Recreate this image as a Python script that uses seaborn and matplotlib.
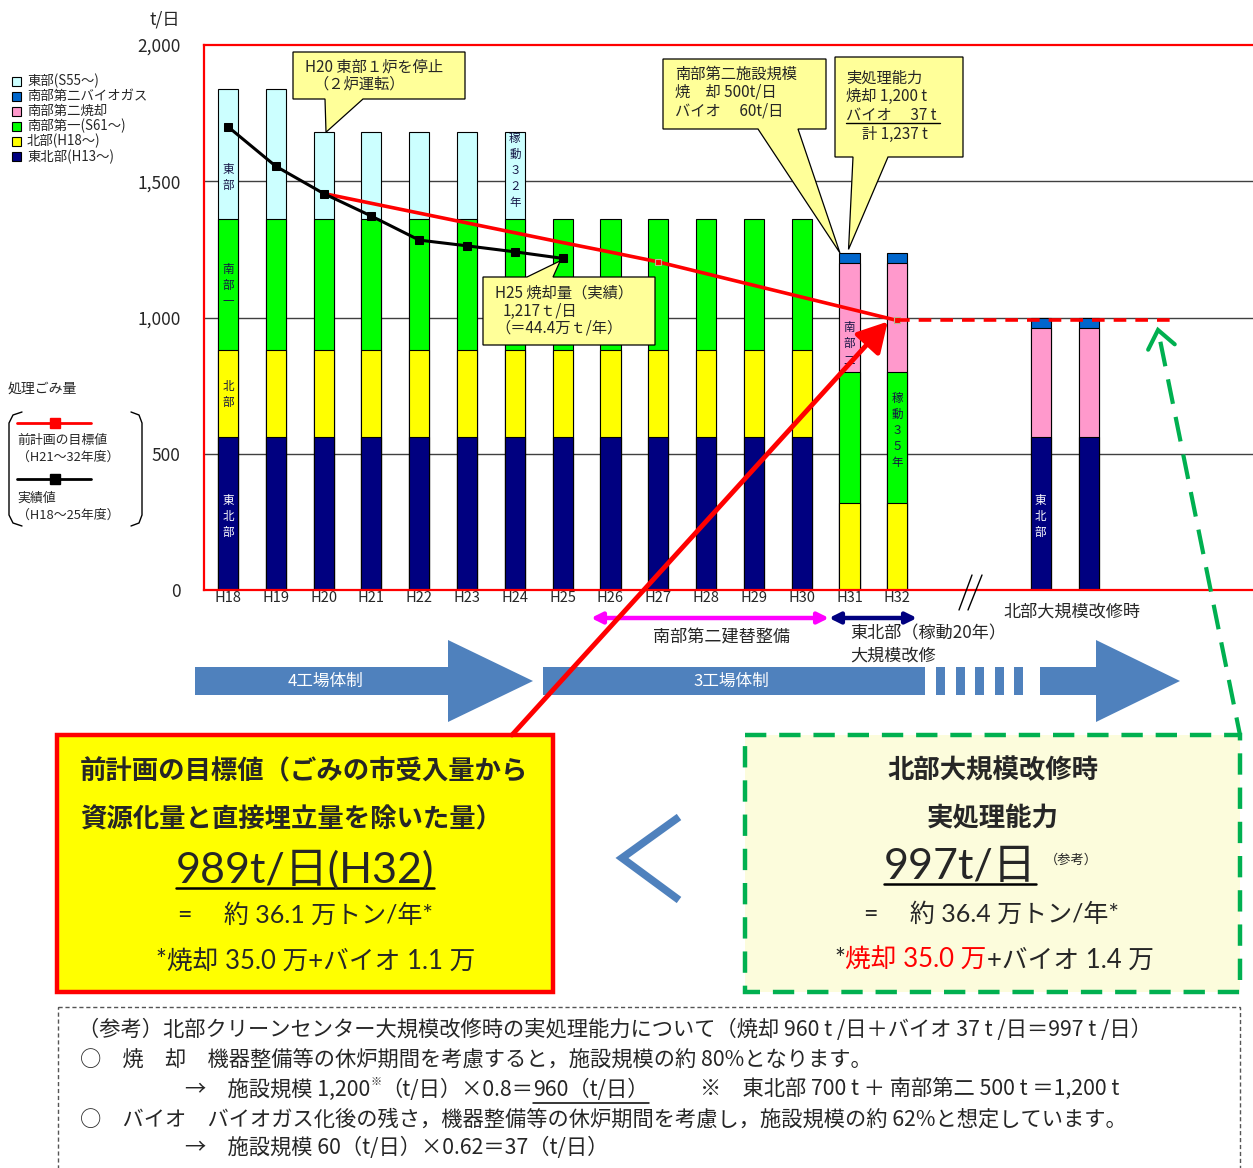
import numpy as np
import pandas as pd
import matplotlib
matplotlib.use("Agg")
import matplotlib.pyplot as plt
import seaborn as sns
from matplotlib.patches import Polygon, Rectangle

# ---------------- data ----------------
years = ["H18", "H19", "H20", "H21", "H22", "H23", "H24", "H25",
         "H26", "H27", "H28", "H29", "H30", "H31", "H32"]
gap_slots = ["gap1", "gap2"]
future_slots = ["北部改修時A", "北部改修時B"]

tohokubu   = [560] * 13 + [0, 0] + [560, 560]
hokubu     = [320] * 15 + [0, 0]
nanbu1     = [480] * 15 + [0, 0]
nanbu2_inc = [0] * 13 + [400, 400] + [400, 400]
nanbu2_bio = [0] * 13 + [37, 37] + [37, 37]
tobu       = [480, 480, 320, 320, 320, 320, 320] + [0] * 10

actual_years = years[:8]
actual_vals = [1700, 1555, 1455, 1372, 1284, 1263, 1241, 1217]
target_years = years[2:]
target_vals = [1455, 1419, 1383, 1347, 1311, 1275, 1240, 1204,
               1161, 1118, 1075, 1032, 989]

ytick_vals = [0, 500, 1000, 1500, 2000]
ytick_labels = ["0", "500", "1,000", "1,500", "2,000"]

layers = [
    ("東北部(H13～)", tohokubu, "#000080"),
    ("北部(H18～)", hokubu, "#FFFF00"),
    ("南部第一(S61～)", nanbu1, "#00FF00"),
    ("南部第二焼却", nanbu2_inc, "#FF99CC"),
    ("南部第二バイオガス", nanbu2_bio, "#0066CC"),
    ("東部(S55～)", tobu, "#CCFFFF"),
]

# ---------------- figure ----------------
sns.set_theme(style="white")
plt.rcParams["font.family"] = ["Noto Sans CJK JP", "DejaVu Sans"]
THIN = ["Lato", "Noto Sans CJK JP", "DejaVu Sans"]

W, H = 1253, 1168
fig = plt.figure(figsize=(W / 100, H / 100), dpi=100)
fig.patch.set_facecolor("white")
ax = fig.add_axes([204 / W, 1 - 590 / H, (W - 204) / W, 545 / H])
ax.set_facecolor("white")

all_slots = years + future_slots
order = years + gap_slots + future_slots
vals = np.array([l[1] for l in layers], float)
cum = vals.cumsum(axis=0)
for i in range(len(layers) - 1, -1, -1):
    m = vals[i] > 0
    d = pd.DataFrame({"slot": np.array(all_slots)[m], "top": cum[i][m]})
    sns.barplot(data=d, x="slot", y="top", order=order, color=layers[i][2],
                saturation=1, edgecolor="black", linewidth=0.8, width=0.42,
                errorbar=None, ax=ax, zorder=2)

for v in ytick_vals[1:-1]:
    ax.axhline(v, color="#404040", lw=1, zorder=1)

xa = [order.index(y) for y in actual_years]
xt = [order.index(y) for y in target_years]
sns.lineplot(x=xt, y=target_vals, ax=ax, color="red", lw=2.6, marker="s",
             markersize=4.5, markerfacecolor="red", markeredgecolor="#B8B890",
             markeredgewidth=0.8, markevery=[7, 12], zorder=4, legend=False)
ax.plot([xt[-1], 19.75], [target_vals[-1], target_vals[-1]], color="red",
        lw=2.6, dashes=(3.5, 2.5), zorder=4)
sns.lineplot(x=xa, y=actual_vals, ax=ax, color="black", lw=2.2, marker="s",
             markersize=5.5, markerfacecolor="black", markeredgecolor="black",
             zorder=5, legend=False)

ax.set_ylim(0, 2000)
ax.set_xlim(-0.502, 21.44)
ax.set_yticks(ytick_vals)
ax.set_yticklabels(ytick_labels, fontsize=12.5)
ax.tick_params(axis="y", length=0, pad=17)
ax.set_xticks(range(len(years)))
ax.set_xticklabels(years, fontsize=10.5)
ax.tick_params(axis="x", length=0, pad=1)
ax.set_xlabel("")
ax.set_ylabel("")
for s in ["left", "top", "bottom"]:
    ax.spines[s].set_visible(True)
    ax.spines[s].set_color("red")
    ax.spines[s].set_linewidth(1.6)
ax.spines["right"].set_visible(False)

DARK = "#151545"
def vtext(slot, val, s, color=DARK):
    ax.text(order.index(slot), val, "\n".join(s), ha="center", va="center",
            fontsize=8.3, color=color, linespacing=1.3, zorder=6)

vtext("H18", 1512, "東部")
vtext("H18", 1119, "南部一")
vtext("H18", 716, "北部")
vtext("H18", 268, "東北部", "white")
vtext("H24", 1541, "稼動３２年")
vtext("H31", 906, "南部二")
vtext("H32", 587, "稼動３５年")
vtext(future_slots[0], 268, "東北部", "white")

# ---------------- overlay ----------------
ov = fig.add_axes([0, 0, 1, 1], zorder=10)
ov.set_xlim(0, W)
ov.set_ylim(H, 0)
ov.axis("off")
R = fig.canvas.get_renderer()

def to_px(x, y):
    return ov.transData.inverted().transform(ax.transData.transform((x, y)))

def T(x, y, s, fs, **kw):
    kw.setdefault("va", "center")
    kw.setdefault("ha", "left")
    return ov.text(x, y, s, fontsize=fs, **kw)

def runs(x, y, parts, ha="left", fs=12, **common):
    objs, ws = [], []
    for p in parts:
        kw = dict(common)
        kw.update(p.get("kw", {}))
        t = ov.text(0, y + p.get("dy", 0), p["s"], fontsize=p.get("fs", fs),
                    ha="left", va=kw.pop("va", "center"), **kw)
        objs.append(t)
        ws.append(t.get_window_extent(R).width + p.get("gap", 0))
    total = sum(ws)
    cur = x - total / 2 if ha == "center" else x
    for t, w in zip(objs, ws):
        t.set_x(cur)
        cur += w
    return objs

def underline(t, y, lw=1.3):
    bb = t.get_window_extent(R)
    ov.plot([bb.x0, bb.x1], [y, y], color="black", lw=lw)

# y-label unit
T(165, 20, "t/日", 12.5, ha="center")

# legend (stack colours)
for k, (lab, _, col) in enumerate(layers[::-1]):
    y = 81 + k * 15.1
    ov.add_patch(Rectangle((12, y - 4.5), 9, 9, fc=col, ec="black", lw=0.8))
    T(27, y, lab, 9.6)

# legend (lines)
T(8, 389, "処理ごみ量", 10)
ov.plot([22, 13, 9, 9, 13, 22], [412, 415, 423, 515, 523, 526], color="black", lw=1)
ov.plot([131, 139, 142, 142, 139, 131], [412, 415, 423, 515, 523, 526], color="black", lw=1)
ov.plot([17, 91], [423, 423], color="red", lw=2)
ov.plot([55], [423], marker="s", color="red", ms=7)
T(17, 440, "前計画の目標値", 9.3)
T(17, 457, "（H21～32年度）", 9.3)
ov.plot([17, 91], [479, 479], color="black", lw=2)
ov.plot([55], [479], marker="s", color="black", ms=7)
T(17, 498, "実績値", 9.3)
T(17, 515, "（H18～25年度）", 9.3)

# callouts
CALL = "#FFFF99"
def callout(x0, y0, x1, y1, side, xa_, xb_, tip):
    tip = tuple(tip)
    if side == "bottom":
        pts = [(x0, y0), (x1, y0), (x1, y1), (xb_, y1), tip, (xa_, y1), (x0, y1)]
    else:
        pts = [(x0, y0), (xa_, y0), tip, (xb_, y0), (x1, y0), (x1, y1), (x0, y1)]
    ov.add_patch(Polygon(pts, closed=True, fc=CALL, ec="black", lw=0.9, zorder=3))

CF = 11
callout(293, 52, 465, 99, "bottom", 325, 363, to_px(2.05, 1680))
T(305, 67, "H20 東部１炉を停止", CF, zorder=4)
T(313, 84, "（２炉運転）", CF, zorder=4)

callout(663, 59, 826, 129, "bottom", 758, 798, to_px(12.8, 1237))
T(675, 74, "南部第二施設規模", CF, zorder=4)
T(675, 92, "焼　却 500t/日", CF, zorder=4)
T(675, 111, "バイオ　 60t/日", CF, zorder=4)

callout(835, 57, 963, 157, "bottom", 853, 888, to_px(12.98, 1250))
T(846, 78, "実処理能力", CF, zorder=4)
T(846, 96, "焼却 1,200 t", CF, zorder=4)
T(846, 115, "バイオ　 37 t", CF, zorder=4)
ov.plot([846, 940], [123, 123], color="black", lw=1, zorder=4)
T(862, 134, "計 1,237 t", CF, zorder=4)

callout(483, 277, 655, 345, "top", 527, 553, to_px(6.95, 1208))
T(495, 293, "H25 焼却量（実績）", CF, zorder=4)
T(503, 311, "1,217ｔ/日", CF, zorder=4)
T(495, 328, "（＝44.4万ｔ/年）", CF, zorder=4)

# under-axis annotations
ov.annotate("", xy=(591, 618), xytext=(829, 618),
            arrowprops=dict(arrowstyle="<|-|>", color="#FF00FF", lw=3.2,
                            mutation_scale=16, shrinkA=0, shrinkB=0))
ov.plot([606, 814], [618, 618], color="white", lw=0.8)
ov.annotate("", xy=(829, 618), xytext=(917, 618),
            arrowprops=dict(arrowstyle="<|-|>", color="#000080", lw=3.2,
                            mutation_scale=16, shrinkA=0, shrinkB=0))
ov.plot([844, 902], [618, 618], color="white", lw=0.8)
T(722, 637, "南部第二建替整備", 12.3, ha="center")
T(850, 633, "東北部（稼動20年）", 12.3)
T(850, 656, "大規模改修", 12.3)
T(1003, 612, "北部大規模改修時", 12.3)
ov.plot([959, 972], [610, 575], color="black", lw=1)
ov.plot([968, 982], [610, 575], color="black", lw=1)

BLUE = "#4F81BD"
ov.add_patch(Polygon([(195, 667), (448, 667), (448, 640), (533, 681),
                      (448, 722), (448, 695), (195, 695)], fc=BLUE, ec="none"))
ov.add_patch(Rectangle((543, 667), 382, 28, fc=BLUE, ec="none"))
for k in range(5):
    ov.add_patch(Rectangle((936 + k * 19.5, 667), 9, 28, fc=BLUE, ec="none"))
ov.add_patch(Polygon([(1040, 667), (1096, 667), (1096, 640), (1180, 681),
                      (1096, 722), (1096, 695), (1040, 695)], fc=BLUE, ec="none"))
T(326, 681, "4工場体制", 12, ha="center", color="white")
T(731, 681, "3工場体制", 12, ha="center", color="white")

# boxes
ov.add_patch(Rectangle((57, 735), 496, 257, fc="#FFFF00", ec="red", lw=3.2))
ov.add_patch(Rectangle((745, 735), 495, 257, fc="#FCFCDC", ec="#00B050",
                       lw=3.2, linestyle=(0, (4.8, 2.9))))

T(80, 772, "前計画の目標値（ごみの市受入量から", 19, fontweight="bold")
T(80, 820, "資源化量と直接埋立量を除いた量）", 19, fontweight="bold")
t989 = T(305, 883, "989t/日(H32)", 31, ha="center", va="baseline", family=THIN)
underline(t989, 888, lw=1.8)
T(306, 915, "=　 約 36.1 万トン/年*", 18, ha="center", family=THIN)
T(316, 962, "*焼却 35.0 万+バイオ 1.1 万", 18.5, ha="center", family=THIN)

T(993, 771, "北部大規模改修時", 19, ha="center", fontweight="bold")
T(993, 819, "実処理能力", 19, ha="center", fontweight="bold")
t997 = T(960, 879, "997t/日", 31, ha="center", va="baseline", family=THIN)
underline(t997, 884, lw=1.8)
T(1045, 860, "（参考）", 9.5)
T(992, 914, "=　 約 36.4 万トン/年*", 18, ha="center", family=THIN)
runs(994, 960, [dict(s="*"), dict(s="焼却 35.0 万", kw=dict(color="red")),
                dict(s="+バイオ 1.4 万")], ha="center", fs=18.5, family=THIN)

ov.plot([679, 622, 679], [817, 858, 900], color=BLUE, lw=5.5,
        solid_joinstyle="miter", solid_capstyle="butt")

# big arrows into the chart
tipR = to_px(13.8, 985)
ov.annotate("", xy=tipR, xytext=(512, 735),
            arrowprops=dict(arrowstyle="-|>,head_length=0.5,head_width=0.28",
                            color="red", lw=3.5, mutation_scale=36,
                            shrinkA=0, shrinkB=0), zorder=6)
GREEN = "#00B050"
tip = np.array([1158.0, 330.0])
tail = np.array([1240.0, 735.0])
u = (tail - tip) / np.linalg.norm(tail - tip)
def rot(v, a):
    c, s = np.cos(a), np.sin(a)
    return np.array([c * v[0] - s * v[1], s * v[0] + c * v[1]])
a1 = tip + 22 * rot(u, np.radians(38))
a2 = tip + 22 * rot(u, -np.radians(38))
ov.plot([a1[0], tip[0], a2[0]], [a1[1], tip[1], a2[1]], color=GREEN, lw=3,
        solid_joinstyle="miter")
st = tip + u * 12
ov.plot([st[0], tail[0]], [st[1], tail[1]], color=GREEN, lw=3, dashes=(6, 3.2))

# reference notes
ov.add_patch(Rectangle((58, 1007), 1182, 220, fc="none", ec="#555555", lw=1,
                       linestyle=(0, (3, 2))))
NF = 15.3
T(78, 1030, "（参考）北部クリーンセンター大規模改修時の実処理能力について（焼却 960 t /日＋バイオ 37 t /日＝997 t /日）", NF)
T(80, 1060, "○　焼　却　機器整備等の休炉期間を考慮すると，施設規模の約 80%となります。", NF)
o3 = runs(185, 1090, [dict(s="→　施設規模 1,200"), dict(s="※", fs=8, dy=-8),
                      dict(s="（t/日）×0.8＝"), dict(s="960（t/日）")], fs=NF)
underline(o3[-1], 1103, lw=1.1)
T(700, 1090, "※　東北部 700 t ＋ 南部第二 500 t ＝1,200 t", NF)
T(80, 1120, "○　バイオ　バイオガス化後の残さ，機器整備等の休炉期間を考慮し，施設規模の約 62%と想定しています。", NF)
T(185, 1148, "→　施設規模 60（t/日）×0.62＝37（t/日）", NF)

fig.savefig("out.png", dpi=100)
